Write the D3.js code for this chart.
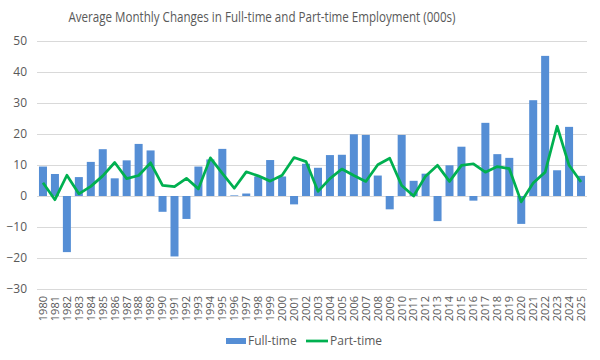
<!DOCTYPE html>
<html><head><meta charset="utf-8">
<script src="https://cdn.jsdelivr.net/npm/d3@7"></script>
<style>body{margin:0;background:#fff}svg{display:block}text{font-family:"Open Sans",sans-serif}</style>
</head><body>
<svg id="c" width="600" height="360"></svg>
<script>
const years = d3.range(1980, 2026).map(String);
const fullTime = [9.5,7.1,-18.1,6.1,11.0,15.1,5.7,11.5,16.8,14.7,-5.1,-19.5,-7.4,9.5,11.8,15.2,0.2,0.8,6.3,11.6,6.3,-2.7,10.4,9.1,13.2,13.3,19.9,19.7,6.6,-4.3,19.7,4.9,7.2,-8.1,9.9,15.9,-1.5,23.6,13.5,12.3,-9.0,30.9,45.2,8.3,22.3,6.5];
const partTime = [4.3,-1.2,6.7,0.7,3.1,6.5,10.8,5.6,6.6,10.7,3.4,3.0,5.7,2.3,12.3,7.3,2.5,7.8,6.5,4.8,6.7,12.4,11.1,1.5,5.6,8.7,6.6,4.7,10.1,12.2,3.4,0.0,6.4,9.9,4.7,9.9,10.4,7.7,9.5,8.8,-1.9,4.2,7.7,22.5,9.9,4.5];
const yTicks = [-30,-20,-10,0,10,20,30,40,50];
const title = "Average Monthly Changes in Full-time and Part-time Employment (000s)";

const svg = d3.select("#c");
const L=37,R=587,T=41,B=289;
const x = d3.scaleBand().domain(years).range([L,R]).paddingInner(0.33).paddingOuter(0.165);
const y = d3.scaleLinear().domain([-30,50]).range([B,T]);

svg.append("text").attr("x",262).attr("y",22).attr("text-anchor","middle")
  .attr("font-size",14).attr("fill","#595959").attr("textLength",387).attr("lengthAdjust","spacingAndGlyphs").text(title);

const gy = svg.append("g").attr("transform",`translate(${L},0)`)
  .call(d3.axisLeft(y).tickValues(yTicks).tickSize(-(R-L)).tickPadding(10));
gy.select(".domain").remove();
gy.selectAll(".tick line").attr("stroke","#d9d9d9");
gy.selectAll(".tick text").attr("font-size",12).attr("fill","#595959").attr("font-family","Open Sans, sans-serif");

svg.append("g").selectAll("rect").data(years).join("rect")
  .attr("x",d=>x(d)).attr("width",x.bandwidth())
  .attr("y",(d,i)=>y(Math.max(0,fullTime[i])))
  .attr("height",(d,i)=>Math.abs(y(fullTime[i])-y(0)))
  .attr("fill","#558ed5");

const line = d3.line().x((d,i)=>x(years[i])+x.bandwidth()/2).y(d=>y(d));
svg.append("path").datum(partTime).attr("d",line).attr("fill","none")
  .attr("stroke","#00b050").attr("stroke-width",2.75).attr("stroke-linejoin","round");

const gx = svg.append("g").attr("transform",`translate(0,${B})`)
  .call(d3.axisBottom(x).tickSize(0).tickPadding(0));
gx.select(".domain").remove();
gx.selectAll(".tick text").attr("font-size",11).attr("fill","#595959").attr("font-family","Open Sans, sans-serif")
  .attr("text-anchor","end").attr("transform","translate(0,7) rotate(-90)").attr("dy","0.35em").attr("y",0).attr("x",0);

const lg = svg.append("g");
lg.append("rect").attr("x",226).attr("y",338).attr("width",20).attr("height",6).attr("fill","#558ed5");
lg.append("text").attr("x",248).attr("y",345).attr("font-size",12).attr("fill","#595959").text("Full-time");
lg.append("line").attr("x1",306).attr("x2",328).attr("y1",341).attr("y2",341).attr("stroke","#00b050").attr("stroke-width",2.75);
lg.append("text").attr("x",330).attr("y",345).attr("font-size",12).attr("fill","#595959").text("Part-time");
</script>
</body></html>
